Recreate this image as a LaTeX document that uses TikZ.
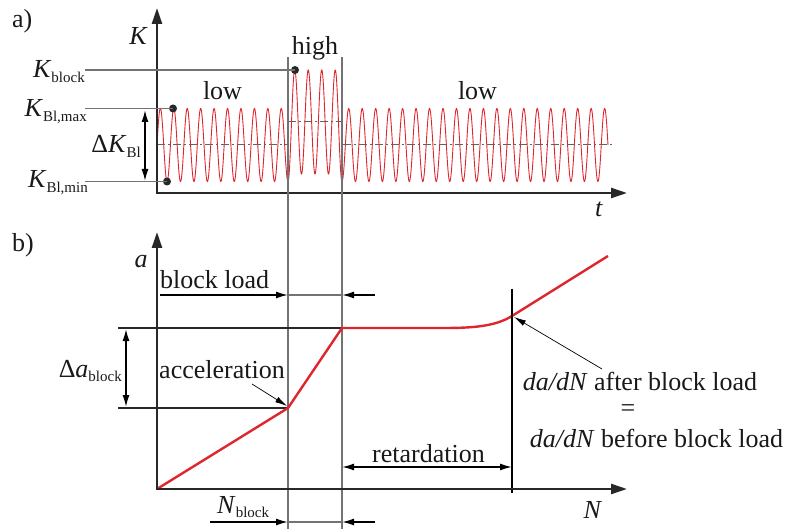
\documentclass[tikz,border=0pt]{standalone}
\usepackage{fontspec}
\setmainfont{Liberation Serif}
\usetikzlibrary{arrows.meta}
\definecolor{curvec}{RGB}{222,38,44}
\definecolor{axisc}{RGB}{40,40,40}
\definecolor{guidec}{RGB}{115,115,115}
\definecolor{textc}{RGB}{25,25,25}
\newcommand{\lowsub}[1]{\raisebox{-4.5pt}{\fontsize{15}{15}\selectfont #1}}
\begin{document}
\begin{tikzpicture}[x=1pt,y=-1pt,
  lbl/.style={font=\fontsize{26}{30}\selectfont, inner sep=0pt, text=textc},
  axisline/.style={line width=2.4pt, draw=axisc, line join=miter,
    {Triangle[length=16pt,width=10pt]}-{Triangle[length=16pt,width=10pt]}},
  guide/.style={line width=1.1pt, draw=guidec},
  darkguide/.style={line width=1.1pt, draw=axisc},
  dimarrow/.style={line width=1.6pt, draw=black, -{Latex[length=12pt,width=7pt]}},
  dimarrows/.style={line width=1.6pt, draw=black,
    {Latex[length=12pt,width=7pt]}-{Latex[length=12pt,width=7pt]}},
  thinarrow/.style={line width=0.7pt, draw=black, -{Latex[length=12pt,width=6pt]}},
  sig/.style={draw=curvec, line width=0.9pt},
  growth/.style={draw=curvec, line width=2.4pt, line join=round},
  meanline/.style={draw=guidec!85!black, line width=1pt, dash pattern=on 8pt off 3pt on 2pt off 3pt},
  dotc/.style={circle, fill=axisc, inner sep=0pt, minimum size=8pt},
]
\useasboundingbox (0,0) rectangle (787,529);

% ---------------- panel a) ----------------
\node[lbl, anchor=base west] (pa) at (12,28) {a)};
\coordinate (Ktip) at (157,8);
\coordinate (Ko) at (157,193);
\coordinate (ttip) at (627,193);

% sine signal
\draw[sig] plot[domain=157:288, samples=500] (\x,{145-36.5*sin((\x-157)*26.794)})
  -- plot[domain=288:294.75, samples=40] (\x,{125.75+55.75*cos((\x-288)*26.6667)})
  -- plot[domain=294.75:335.25, samples=240] (\x,{122+52*cos((\x-288)*26.6667)})
  -- plot[domain=335.25:342, samples=40] (\x,{125.75+55.75*cos((\x-288)*26.6667)})
  -- plot[domain=342:608, samples=900] (\x,{145+36.5*cos((\x-342)*26.730)});

% mean lines
\coordinate (m1a) at (157,145); \coordinate (m1b) at (288,145);
\coordinate (m2a) at (343,145); \coordinate (m2b) at (613,145);
\coordinate (m3a) at (288,122); \coordinate (m3b) at (342,122);
\draw[meanline] (m1a) -- (m1b);
\draw[meanline] (m2a) -- (m2b);
\draw[meanline] (m3a) -- (m3b);

\draw[axisline] (Ktip) -- (Ko) -- (ttip);
\node[lbl, anchor=base] (Klab) at (138.5,45) {\textit{K}};
\node[lbl, anchor=base] (tlab) at (599,217) {\textit{t}};

% level labels and guide lines
\node[lbl, anchor=base east] (kblock) at (85,78) {\textit{K}\lowsub{block}};
\node[lbl, anchor=base east] (kmax) at (87,117) {\textit{K}\lowsub{Bl,max}};
\node[lbl, anchor=base east] (kmin) at (88,188) {\textit{K}\lowsub{Bl,min}};
\node[lbl, anchor=base east] (dk) at (141,153) {Δ\textit{K}\lowsub{Bl}};
\node[dotc] (dblock) at (295,70) {};
\node[dotc] (dmax) at (173,108.5) {};
\node[dotc] (dmin) at (167,181.5) {};
\coordinate (gblock) at (85,70);
\coordinate (gmax) at (85,108.5);
\coordinate (gmin) at (85,181.5);
\draw[guide] (gblock) -- (dblock.center);
\draw[guide] (gmax) -- (dmax.center);
\draw[guide] (gmin) -- (dmin.center);
\coordinate (dkt) at (145,110);
\coordinate (dkb) at (145,181);
\draw[dimarrows] (dkt) -- (dkb);

\node[lbl, anchor=base] (low1) at (222.5,100) {low};
\node[lbl, anchor=base] (low2) at (477.5,100) {low};
\node[lbl, anchor=base] (high) at (315,55) {high};

% vertical block boundaries
\coordinate (v1t) at (288,57); \coordinate (v1b) at (288,529);
\coordinate (v2t) at (342,57); \coordinate (v2b) at (342,529);
\draw[guide] (v1t) -- (v1b);
\draw[guide] (v2t) -- (v2b);

% ---------------- panel b) ----------------
\node[lbl, anchor=base west] (pb) at (12,252) {b)};
\coordinate (atip) at (157,232);
\coordinate (ao) at (157,489);
\coordinate (Ntip) at (627,489);
\node[lbl, anchor=base] (alab) at (141,268) {\textit{a}};
\node[lbl, anchor=base] (Nlab) at (593,518) {\textit{N}};

% block load
\node[lbl, anchor=base west] (blabel) at (160,289) {block load};
\coordinate (bl0) at (160,295); \coordinate (bl1) at (288,295);
\coordinate (bl2) at (342,295); \coordinate (bl3) at (375,295);
\draw[dimarrow] (bl0) -- (bl1);
\draw[dimarrow] (bl3) -- (bl2);
\draw[guide] (bl1) -- (bl2);

% delta a
\coordinate (h1a) at (118,328); \coordinate (h1b) at (342,328);
\coordinate (h2a) at (118,408); \coordinate (h2b) at (288,408);
\draw[darkguide] (h1a) -- (h1b);
\draw[darkguide] (h2a) -- (h2b);
\coordinate (dat) at (126,329); \coordinate (dab) at (126,407);
\draw[dimarrows] (dat) -- (dab);
\node[lbl, anchor=base east] (dalab) at (122,377) {Δ\textit{a}\lowsub{block}};

% crack growth curve
\coordinate (c0) at (157,489);
\coordinate (c1) at (288,408);
\coordinate (c2) at (342,328);
\coordinate (c3) at (443,328);
\coordinate (c4) at (512,316);
\coordinate (c5) at (608,256);
\draw[growth] (c0) -- (c1) -- (c2) -- (c3) .. controls (472,328) and (495,326.6) .. (c4) -- (c5);

% retardation end line
\coordinate (rt) at (512,289); \coordinate (rb) at (512,493);
\draw[line width=1.1pt, draw=black] (rt) -- (rb);

\draw[axisline] (atip) -- (ao) -- (Ntip);

% acceleration
\node[lbl, anchor=base] (acc) at (222,378) {acceleration};
\coordinate (acs) at (252,384);
\coordinate (ace) at (287,406);
\draw[thinarrow] (acs) -- (ace);

% da/dN annotation
\node[lbl, anchor=base] (after) at (640,390) {\textit{da/dN} after block load};
\node[lbl] (eq) at (628,411) {=};
\node[lbl, anchor=base] (before) at (656.5,447) {\textit{da/dN} before block load};
\coordinate (das) at (602,369);
\coordinate (dae) at (514,317);
\draw[thinarrow] (das) -- (dae);

% retardation
\node[lbl, anchor=base] (ret) at (428.5,462) {retardation};
\coordinate (re1) at (342,467); \coordinate (re2) at (512,467);
\draw[dimarrows] (re1) -- (re2);

% N block
\node[lbl, anchor=base west] (nblk) at (217,513) {\textit{N}\lowsub{block}};
\coordinate (nb0) at (210,522); \coordinate (nb1) at (288,522);
\coordinate (nb2) at (342,522); \coordinate (nb3) at (375,522);
\draw[dimarrow] (nb0) -- (nb1);
\draw[dimarrow] (nb3) -- (nb2);
\draw[guide] (nb1) -- (nb2);
\end{tikzpicture}
\end{document}
